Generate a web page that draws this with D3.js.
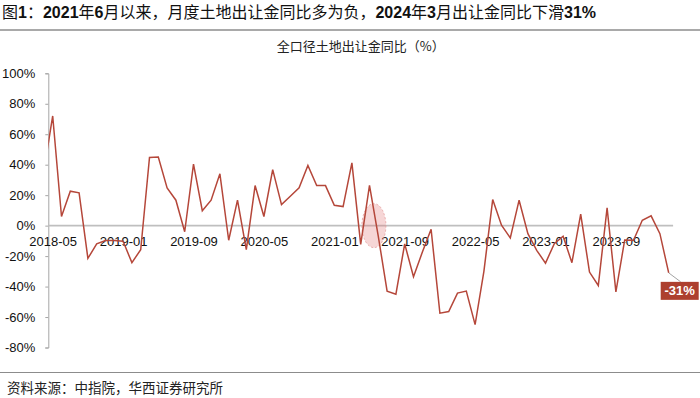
<!DOCTYPE html>
<html>
<head>
<meta charset="utf-8">
<script src="https://cdn.jsdelivr.net/npm/d3@7"></script>
<style>
  body { margin: 0; background: #fff; }
  svg { display: block; }
  text { font-family: "Liberation Sans", Arial, "Noto Sans CJK SC", sans-serif; }
</style>
</head>
<body>
<svg></svg>
<script>
// 全口径土地出让金同比，%，2018-04 只用于画出被左边界截断的那一段
const months = [
  "2018-04","2018-05","2018-06","2018-07","2018-08","2018-09","2018-10","2018-11","2018-12",
  "2019-01","2019-02","2019-03","2019-04","2019-05","2019-06","2019-07","2019-08","2019-09","2019-10","2019-11","2019-12",
  "2020-01","2020-02","2020-03","2020-04","2020-05","2020-06","2020-07","2020-08","2020-09","2020-10","2020-11","2020-12",
  "2021-01","2021-02","2021-03","2021-04","2021-05","2021-06","2021-07","2021-08","2021-09","2021-10","2021-11","2021-12",
  "2022-01","2022-02","2022-03","2022-04","2022-05","2022-06","2022-07","2022-08","2022-09","2022-10","2022-11","2022-12",
  "2023-01","2023-02","2023-03","2023-04","2023-05","2023-06","2023-07","2023-08","2023-09","2023-10","2023-11","2023-12",
  "2024-01","2024-02","2024-03"
];
const yoy = [
  36, 72, 6, 22.6, 21.5, -21.5, -12, -9.8, -9.8,
  -10.3, -24.3, -15.8, 44.7, 45, 24.8, 16.7, -4, 40.4, 9.8, 16.7, 34,
  -9.6, 16.7, -15.8, 26.3, 6, 36.8, 13.8, 19.3, 24.8, 39.5, 26.3, 26.3,
  13.4, 12.5, 41.2, -12.3, 26.5, -7, -43, -45, -12, -33.5, -17.5, -2.4,
  -57.5, -56.4, -44.3, -43, -65, -30, 17.1, 0.3, -8.1, 16.7, -5.3, -16.2,
  -24.6, -11.8, -7, -24.3, 7.5, -30.5, -39.3, 11.7, -43.5, -9.4, -9.6, 3.5,
  6.4, -5.3, -31
];
const xTickLabels = ["2018-05","2019-01","2019-09","2020-05","2021-01","2021-09","2022-05","2023-01","2023-09"];
const yTicks = [-80, -60, -40, -20, 0, 20, 40, 60, 80, 100];

const title = "图1：2021年6月以来，月度土地出让金同比多为负，2024年3月出让金同比下滑31%";
const subtitle = "全口径土地出让金同比（%）";
const source = "资料来源：中指院，华西证券研究所";
const lastLabel = "-31%";

const svgWidth = 700, svgHeight = 398;
const lineColor = "#b5473a";

const svg = d3.select("svg")
  .attr("width", svgWidth)
  .attr("height", svgHeight);

const data = months.map((m, i) => ({ month: m, i: i, value: yoy[i] }));
const first = months.indexOf("2018-05");
const last = months.length - 1;

const x = d3.scaleLinear()
  .domain([first, last])
  .range([52.7, 668.7]);

const y = d3.scaleLinear()
  .domain([-80, 100])
  .range([347.5, 73.3]);

const step = x(first + 1) - x(first);
const plotLeft = x(first) - step / 2, plotRight = x(last) + step / 2;

// title block
const t = svg.append("text")
  .attr("x", 2)
  .attr("y", 18)
  .attr("font-size", 16)
  .attr("fill", "#111");
title.split(/([0-9%]+)/).filter(s => s.length).forEach(s => {
  const ascii = /^[0-9%]+$/.test(s);
  t.append("tspan")
    .attr("font-weight", ascii ? "bold" : "normal")
    .style("font-family", ascii ? "'Liberation Sans', Arial" : "'Noto Sans CJK SC'")
    .text(s);
});

svg.append("line")
  .attr("x1", 0).attr("x2", svgWidth)
  .attr("y1", 30).attr("y2", 30)
  .attr("stroke", "#8c8c8c")
  .attr("stroke-width", 1.5);

svg.append("text")
  .attr("x", (plotLeft + plotRight) / 2)
  .attr("y", 51)
  .attr("text-anchor", "middle")
  .attr("font-size", 13)
  .style("font-family", "'Noto Sans CJK SC'")
  .attr("fill", "#222")
  .text(subtitle);

// y axis
const yAxis = svg.append("g")
  .attr("transform", "translate(" + plotLeft + ",0)")
  .call(d3.axisLeft(y)
    .tickValues(yTicks)
    .tickFormat(d => d + "%")
    .tickSize(3)
    .tickPadding(10));
yAxis.select(".domain").attr("stroke", "#a6a6a6");
yAxis.selectAll(".tick line").attr("stroke", "#a6a6a6");
yAxis.selectAll(".tick text")
  .attr("font-size", 13)
  .attr("fill", "#111")
  .style("font-family", "'Liberation Sans', Arial");

// zero line
svg.append("line")
  .attr("x1", plotLeft).attr("x2", plotRight)
  .attr("y1", y(0)).attr("y2", y(0))
  .attr("stroke", "#bfbfbf")
  .attr("stroke-width", 1.6);

// x labels (every 8 months)
const xAxis = svg.append("g")
  .attr("transform", "translate(0," + y(0) + ")")
  .call(d3.axisBottom(x)
    .tickValues(xTickLabels.map(m => months.indexOf(m)))
    .tickFormat(i => months[i])
    .tickSize(0)
    .tickPadding(11));
xAxis.select(".domain").remove();
xAxis.selectAll(".tick text")
  .attr("font-size", 13)
  .attr("fill", "#111")
  .style("font-family", "'Liberation Sans', Arial");

// highlight ellipse around the turn to negative (2021-05/06)
svg.append("ellipse")
  .attr("cx", x(months.indexOf("2021-05") + 0.5))
  .attr("cy", y(0))
  .attr("rx", 12)
  .attr("ry", 22)
  .attr("fill", "rgba(226, 120, 120, 0.3)")
  .attr("stroke", "#e39a9a")
  .attr("stroke-width", 0.8)
  .attr("stroke-dasharray", "2,2");

svg.append("clipPath")
  .attr("id", "plot-clip")
  .append("rect")
  .attr("x", plotLeft).attr("y", 0)
  .attr("width", plotRight - plotLeft).attr("height", svgHeight);

const line = d3.line()
  .x(d => x(d.i))
  .y(d => y(d.value));

svg.append("path")
  .datum(data)
  .attr("clip-path", "url(#plot-clip)")
  .attr("fill", "none")
  .attr("stroke", lineColor)
  .attr("stroke-width", 1.5)
  .attr("stroke-linejoin", "miter")
  .attr("d", line);

// last value label
const lx = x(last), ly = y(yoy[last]);
svg.append("line")
  .attr("x1", lx).attr("y1", ly)
  .attr("x2", lx + 12).attr("y2", ly + 9)
  .attr("stroke", "#8c8c8c")
  .attr("stroke-width", 0.8);
svg.append("rect")
  .attr("x", lx - 8)
  .attr("y", ly + 9)
  .attr("width", 38)
  .attr("height", 18)
  .attr("fill", "#ad3f2e");
svg.append("text")
  .attr("x", lx + 11)
  .attr("y", ly + 22.5)
  .attr("text-anchor", "middle")
  .attr("font-size", 13)
  .attr("font-weight", "bold")
  .attr("fill", "#fff")
  .style("font-family", "'Liberation Sans', Arial")
  .text(lastLabel);

// footer
svg.append("line")
  .attr("x1", 0).attr("x2", svgWidth)
  .attr("y1", 372.5).attr("y2", 372.5)
  .attr("stroke", "#8c8c8c")
  .attr("stroke-width", 1.2);
svg.append("text")
  .attr("x", 7)
  .attr("y", 393)
  .attr("font-size", 13.5)
  .style("font-family", "'Noto Sans CJK SC'")
  .attr("fill", "#222")
  .text(source);
</script>
</body>
</html>
